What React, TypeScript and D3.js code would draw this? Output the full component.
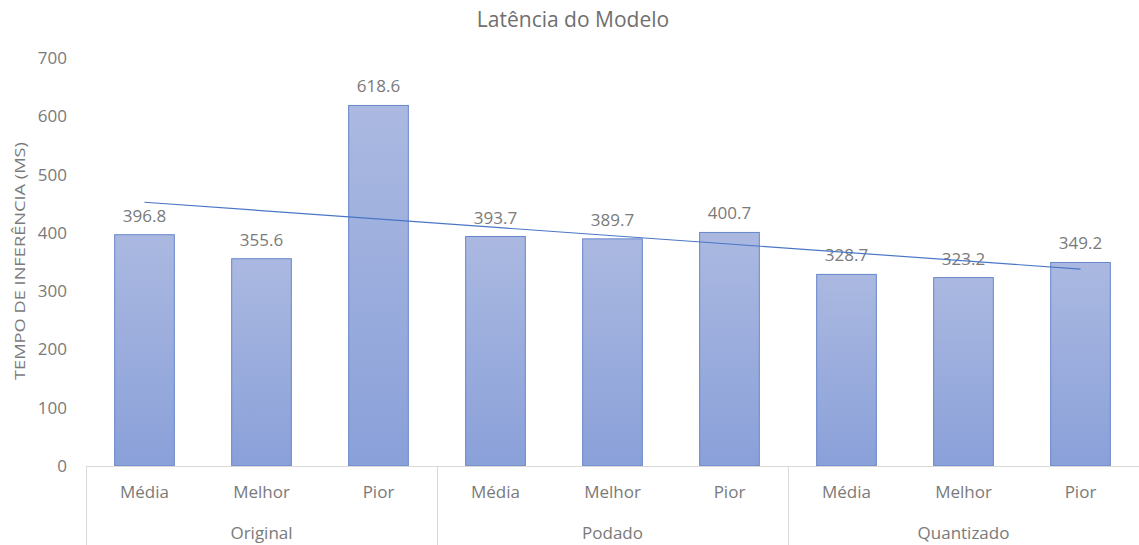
import React, { useEffect, useRef } from 'react';
import * as d3 from 'd3';

const groups = ['Original', 'Podado', 'Quantizado'];
const metrics = ['Média', 'Melhor', 'Pior'];
const values = [396.8, 355.6, 618.6, 393.7, 389.7, 400.7, 328.7, 323.2, 349.2];
const yTicks = [0, 100, 200, 300, 400, 500, 600, 700];

const App = () => {
  const svgRef = useRef<SVGSVGElement>(null);

  useEffect(() => {
    const W = 1139;
    const H = 545;
    const left = 86;
    const right = 1139;
    const top = 58;
    const bottom = 466;
    const font = '"Open Sans", sans-serif';
    const textColor = '#7a7a7a';
    const fs = '17px';

    const svg = d3.select(svgRef.current).attr('width', W).attr('height', H);
    svg.selectAll('*').remove();

    // one row per bar
    const rows = values.map((v, i) => ({
      key: groups[Math.floor(i / 3)] + '|' + metrics[i % 3],
      metric: metrics[i % 3],
      group: groups[Math.floor(i / 3)],
      value: v,
      idx: i
    }));

    const x = d3
      .scaleBand()
      .domain(rows.map((r) => r.key))
      .range([left, right])
      .paddingInner(0.49)
      .paddingOuter(0.245);
    const y = d3.scaleLinear().domain([0, 700]).range([bottom, top]);

    const defs = svg.append('defs');
    const grad = defs
      .append('linearGradient')
      .attr('id', 'barGrad')
      .attr('x1', 0)
      .attr('y1', 0)
      .attr('x2', 0)
      .attr('y2', 1);
    grad.append('stop').attr('offset', '0%').attr('stop-color', '#abb9e1');
    grad.append('stop').attr('offset', '100%').attr('stop-color', '#8aa0d9');

    // title
    svg
      .append('text')
      .attr('x', 573)
      .attr('y', 27)
      .attr('text-anchor', 'middle')
      .style('font-family', font)
      .style('font-size', '21px')
      .attr('fill', '#6f6f6f')
      .text('Latência do Modelo');

    // y axis labels
    svg
      .append('g')
      .selectAll('text')
      .data(yTicks)
      .join('text')
      .attr('x', 67)
      .attr('y', (d) => y(d))
      .attr('dy', '0.35em')
      .attr('text-anchor', 'end')
      .style('font-family', font)
      .style('font-size', fs)
      .attr('fill', textColor)
      .text((d) => d);

    svg
      .append('text')
      .attr('transform', `translate(25,261) rotate(-90)`)
      .attr('text-anchor', 'middle')
      .attr('textLength', 238)
      .attr('lengthAdjust', 'spacingAndGlyphs')
      .style('font-family', font)
      .style('font-size', '15px')
      .attr('fill', textColor)
      .text('TEMPO DE INFERÊNCIA (MS)');

    // bars
    svg
      .append('g')
      .selectAll('rect')
      .data(rows)
      .join('rect')
      .attr('x', (d) => x(d.key)!)
      .attr('y', (d) => y(d.value))
      .attr('width', x.bandwidth())
      .attr('height', (d) => bottom - y(d.value))
      .attr('fill', 'url(#barGrad)')
      .attr('stroke', '#6685c9')
      .attr('stroke-width', 1);

    // data labels
    svg
      .append('g')
      .selectAll('text')
      .data(rows)
      .join('text')
      .attr('x', (d) => x(d.key)! + x.bandwidth() / 2)
      .attr('y', (d) => y(d.value) - 13)
      .attr('text-anchor', 'middle')
      .style('font-family', font)
      .style('font-size', fs)
      .attr('fill', textColor)
      .text((d) => d.value.toFixed(1));

    // linear trendline
    const n = values.length;
    const mx = d3.mean(rows, (d) => d.idx)!;
    const my = d3.mean(values)!;
    const slope =
      d3.sum(rows, (d) => (d.idx - mx) * (d.value - my)) /
      d3.sum(rows, (d) => (d.idx - mx) ** 2);
    const cx = (i: number) => x(rows[i].key)! + x.bandwidth() / 2;
    const line = d3
      .line<number>()
      .x((i) => cx(i))
      .y((i) => y(my + slope * (i - mx)));
    svg
      .append('path')
      .attr('d', line([0, n - 1]))
      .attr('fill', 'none')
      .attr('stroke', '#4a76c6')
      .attr('stroke-width', 1.2);

    // x axis line + group separators
    const axisColor = '#d9d9d9';
    svg
      .append('line')
      .attr('x1', left)
      .attr('x2', right)
      .attr('y1', bottom + 0.5)
      .attr('y2', bottom + 0.5)
      .attr('stroke', axisColor);

    const bandStep = x.step();
    const groupEdges = d3.range(groups.length + 1).map((g) => left + g * 3 * bandStep);
    svg
      .append('g')
      .selectAll('line')
      .data(groupEdges)
      .join('line')
      .attr('x1', (d) => Math.round(d) + 0.5)
      .attr('x2', (d) => Math.round(d) + 0.5)
      .attr('y1', bottom)
      .attr('y2', H)
      .attr('stroke', axisColor);

    // category labels
    svg
      .append('g')
      .selectAll('text')
      .data(rows)
      .join('text')
      .attr('x', (d) => x(d.key)! + x.bandwidth() / 2)
      .attr('y', 498)
      .attr('text-anchor', 'middle')
      .style('font-family', font)
      .style('font-size', fs)
      .attr('fill', textColor)
      .text((d) => d.metric);

    svg
      .append('g')
      .selectAll('text')
      .data(groups)
      .join('text')
      .attr('x', (d, i) => (groupEdges[i] + groupEdges[i + 1]) / 2)
      .attr('y', 539)
      .attr('text-anchor', 'middle')
      .style('font-family', font)
      .style('font-size', fs)
      .attr('fill', textColor)
      .text((d) => d);
  }, []);

  return (
    <div style={{ position: 'absolute', left: 0, top: 0 }}>
      <svg ref={svgRef}></svg>
    </div>
  );
};

export default App;
